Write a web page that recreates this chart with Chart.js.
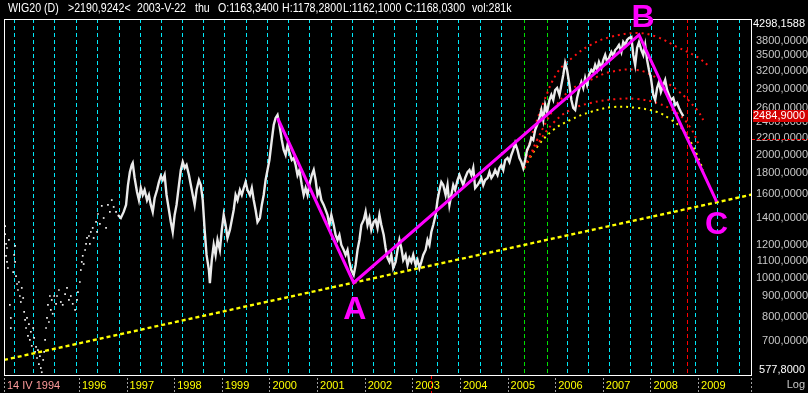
<!DOCTYPE html>
<html><head><meta charset="utf-8">
<script src="https://cdn.jsdelivr.net/npm/chart.js@4.4.1/dist/chart.umd.min.js"></script>
<style>html,body{margin:0;padding:0;background:#000;overflow:hidden}#wrap{width:808px;height:393px;position:relative}</style>
</head><body><div id="wrap"><canvas id="c" width="808" height="393"></canvas></div>
<script>
// ---------- data ----------
const xRange = [1994.427, 2010.133];
const yRange = [577.8, 4298.1588];
const yTicks = [700, 800, 900, 1000, 1100, 1200, 1400, 1600, 1800, 2000, 2200, 2400, 2600, 2900, 3200, 3500, 3800];
const xTickYears = [1994.427, 1996, 1997, 1998, 1999, 2000, 2001, 2002, 2003, 2004, 2005, 2006, 2007, 2008, 2009];
const xTickLabels = ['14 IV 1994', '1996', '1997', '1998', '1999', '2000', '2001', '2002', '2003', '2004', '2005', '2006', '2007', '2008', '2009'];
const gridYears = [1994.64, 1995.04, 1995.48, 1995.94, 1996.39, 1996.85, 1997.29, 1997.73, 1998.17, 1998.61, 1999.06, 1999.52, 1999.96, 2000.41, 2000.85, 2001.30, 2001.75, 2002.19, 2002.63, 2003.08, 2003.53, 2003.97, 2004.43, 2004.88, 2005.36, 2005.83, 2006.25, 2006.70, 2007.14, 2007.58, 2008.03, 2008.48, 2008.77, 2008.94, 2009.41, 2009.87];
const greenGridYears = [2005.36, 2005.83];
const redGridYear = 2008.77;

const earlyDates = [1994.45,1994.45,1994.47,1994.47,1994.49,1994.49,1994.51,1994.53,1994.55,1994.57,1994.57,1994.62,1994.64,1994.66,1994.66,1994.68,1994.70,1994.72,1994.74,1994.76,1994.78,1994.80,1994.83,1994.85,1994.87,1994.89,1994.91,1994.93,1994.95,1994.97,1994.99,1995.01,1995.04,1995.06,1995.08,1995.10,1995.12,1995.14,1995.16,1995.18,1995.20,1995.22,1995.25,1995.27,1995.29,1995.31,1995.33,1995.35,1995.37,1995.39,1995.41,1995.43,1995.45,1995.48,1995.52,1995.54,1995.58,1995.62,1995.66,1995.71,1995.75,1995.79,1995.83,1995.87,1995.92,1995.96,1995.98,1996.02,1996.04,1996.06,1996.08,1996.10,1996.13,1996.15,1996.17,1996.21,1996.23,1996.25,1996.29,1996.31,1996.36,1996.38,1996.40,1996.44,1996.48,1996.52,1996.57,1996.61,1996.65,1996.69,1996.73,1996.78];
const earlyValues = [1338,1279,1210,1131,1182,1093,1056,1237,858,797,753,1032,1137,1196,1093,1009,965,933,976,902,872,944,892,825,788,753,797,720,770,704,737,681,753,712,658,677,636,665,614,643,601,587,629,658,704,753,797,858,779,902,834,882,816,902,863,902,933,872,858,912,944,882,902,863,834,882,922,976,1044,1093,1131,1080,1169,1210,1251,1265,1210,1294,1324,1251,1369,1294,1432,1354,1499,1400,1324,1507,1449,1549,1490,1449];

const priceDates = [1996.82,1996.88,1996.94,1996.99,1997.03,1997.07,1997.11,1997.13,1997.17,1997.22,1997.26,1997.30,1997.34,1997.38,1997.43,1997.47,1997.51,1997.55,1997.59,1997.64,1997.68,1997.72,1997.76,1997.80,1997.84,1997.89,1997.93,1997.97,1998.01,1998.05,1998.10,1998.14,1998.18,1998.22,1998.26,1998.31,1998.35,1998.39,1998.43,1998.47,1998.52,1998.56,1998.60,1998.64,1998.68,1998.73,1998.75,1998.79,1998.83,1998.87,1998.91,1998.96,1999.00,1999.04,1999.08,1999.12,1999.17,1999.21,1999.25,1999.29,1999.33,1999.38,1999.42,1999.46,1999.50,1999.54,1999.59,1999.63,1999.67,1999.71,1999.75,1999.80,1999.84,1999.88,1999.92,1999.96,2000.00,2000.05,2000.09,2000.13,2000.17,2000.21,2000.26,2000.30,2000.34,2000.38,2000.42,2000.47,2000.51,2000.55,2000.59,2000.63,2000.68,2000.72,2000.76,2000.80,2000.84,2000.89,2000.93,2000.97,2001.01,2001.05,2001.09,2001.14,2001.18,2001.22,2001.26,2001.30,2001.35,2001.39,2001.43,2001.47,2001.51,2001.56,2001.60,2001.64,2001.68,2001.72,2001.77,2001.81,2001.85,2001.89,2001.93,2001.98,2002.02,2002.06,2002.10,2002.14,2002.19,2002.23,2002.27,2002.31,2002.35,2002.40,2002.44,2002.48,2002.52,2002.56,2002.60,2002.65,2002.69,2002.73,2002.77,2002.81,2002.86,2002.90,2002.94,2002.98,2003.02,2003.07,2003.11,2003.15,2003.19,2003.23,2003.28,2003.32,2003.36,2003.40,2003.44,2003.49,2003.53,2003.57,2003.61,2003.65,2003.70,2003.74,2003.78,2003.82,2003.86,2003.90,2003.95,2003.99,2004.03,2004.07,2004.11,2004.16,2004.20,2004.24,2004.28,2004.32,2004.37,2004.41,2004.45,2004.49,2004.53,2004.58,2004.62,2004.66,2004.70,2004.74,2004.79,2004.83,2004.87,2004.91,2004.95,2005.00,2005.04,2005.08,2005.12,2005.16,2005.21,2005.25,2005.29,2005.33,2005.37,2005.41,2005.46,2005.50,2005.54,2005.58,2005.62,2005.67,2005.71,2005.75,2005.79,2005.83,2005.88,2005.92,2005.96,2006.00,2006.04,2006.09,2006.13,2006.17,2006.21,2006.25,2006.30,2006.34,2006.38,2006.42,2006.46,2006.50,2006.55,2006.59,2006.63,2006.67,2006.71,2006.76,2006.80,2006.84,2006.88,2006.92,2006.97,2007.01,2007.05,2007.09,2007.13,2007.18,2007.22,2007.26,2007.30,2007.34,2007.39,2007.43,2007.47,2007.51,2007.55,2007.60,2007.64,2007.68,2007.72,2007.76,2007.81,2007.85,2007.89,2007.93,2007.97,2008.01,2008.06,2008.10,2008.14,2008.18,2008.22,2008.27,2008.31,2008.35,2008.39,2008.43,2008.48,2008.52,2008.56,2008.60,2008.64,2008.69];
const priceValues = [1424,1400,1449,1507,1686,1814,1887,1908,1754,1621,1549,1658,1594,1639,1549,1594,1507,1449,1567,1639,1715,1774,1734,1784,1594,1465,1369,1294,1424,1507,1686,1835,1919,1856,1887,1784,1686,1594,1507,1639,1734,1686,1549,1309,1137,1044,970,1105,1203,1137,1237,1169,1309,1424,1346,1251,1309,1385,1465,1594,1549,1639,1594,1658,1715,1639,1594,1658,1549,1465,1369,1400,1507,1594,1734,1835,1941,2173,2365,2461,2502,2365,2173,2054,1997,2113,2031,1941,1963,1887,1784,1835,1686,1594,1658,1594,1686,1784,1835,1734,1594,1639,1549,1507,1465,1424,1346,1424,1346,1272,1237,1272,1203,1169,1137,1169,1093,1044,1015,1074,1169,1237,1346,1385,1449,1346,1400,1309,1369,1385,1324,1424,1346,1272,1182,1118,1093,1137,1056,1093,1169,1237,1182,1105,1137,1074,1118,1093,1137,1074,1105,1056,1093,1137,1169,1237,1203,1294,1346,1424,1549,1639,1715,1686,1594,1686,1507,1594,1686,1639,1734,1784,1734,1686,1754,1814,1835,1784,1856,1658,1686,1715,1754,1686,1734,1754,1814,1754,1784,1835,1784,1856,1887,1835,1941,1963,1919,1997,2054,2137,2054,1963,1919,1856,1941,2054,2113,2198,2173,2299,2365,2461,2574,2433,2647,2545,2723,2801,2723,2881,2914,2801,2963,3135,3355,3225,2963,2723,2603,2574,2754,2881,3014,2914,3083,2963,3135,3225,3189,3317,3225,3373,3262,3411,3509,3373,3450,3569,3489,3609,3650,3712,3569,3775,3712,3818,3861,3883,3509,3317,3650,3775,3609,3509,3712,3411,3225,3083,2801,2723,2914,3014,2849,2963,3048,2881,2801,2723,2754,2647,2677,2603,2545,2485];

const trendDates = [1994.427, 2010.133];
const trendValues = [629, 1598];

const abcDates = [2000.17, 2001.77, 2007.76, 2009.39];
const abcValues = [2460, 972, 3928, 1535];
const abcNames = ['', 'A', 'B', 'C'];

const arcOuterDates = [2005.35,2005.48,2005.62,2005.75,2006.04,2006.38,2006.74,2007.16,2007.72,2008.14,2008.56,2008.98,2009.25];
const arcOuterValues = [1856,2173,2433,2677,3171,3470,3712,3884,3972,3884,3670,3470,3280];
const arcMidDates = [2005.35,2005.48,2005.62,2005.96,2006.32,2006.74,2007.16,2007.72,2008.14,2008.56,2008.98,2009.11];
const arcMidValues = [1856,1997,2173,2574,2881,3048,3189,3225,3083,2881,2574,2433];
const arcInnerDates = [2005.35,2005.58,2005.96,2006.32,2006.74,2007.30,2007.72,2008.14,2008.56,2008.83,2009.04];
const arcInnerValues = [1856,2077,2392,2574,2677,2738,2738,2677,2530,2339,2090];
const arcYellowDates = [2005.35,2005.62,2005.96,2006.32,2006.74,2007.22,2007.72,2008.14,2008.41,2008.69,2008.90,2009.11];
const arcYellowValues = [1856,2090,2299,2433,2545,2617,2603,2545,2447,2299,2090,1835];

const lastPrice = 2484.9;
const cursorDate = 2003.39;
const cursorValue = 2190.9242;
const headerParts = ['WIG20 (D)', '>2190,9242<', '2003-V-22', 'thu', 'O:1163,3400', 'H:1178,2800', 'L:1162,1000', 'C:1168,0300', 'vol:281k'];
const headerX = [8, 68, 137, 195, 218, 282, 343, 405, 472];

// ---------- helpers ----------
const FONT = '"Liberation Sans", Arial, sans-serif';
const fmt = v => v.toFixed(4).replace('.', ',');
const pts = (xs, ys) => xs.map((d, i) => ({x: d, y: ys[i]}));

const decor = {
  id: 'decor',
  beforeDraw(chart) {
    const c = chart.ctx; c.save(); c.fillStyle = '#000'; c.fillRect(0, 0, chart.width, chart.height); c.restore();
  },
  afterDraw(chart) {
    const {ctx, chartArea: a, scales: {x, y}} = chart;
    const W = chart.width, H = chart.height;
    ctx.save();
    // frame
    ctx.setLineDash([]); ctx.strokeStyle = '#ffffff'; ctx.lineWidth = 1;
    ctx.strokeRect(a.left + 0.5, a.top + 0.5, a.right - a.left - 1, a.bottom - a.top);
    // x tick marks
    ctx.strokeStyle = '#a0a0a0'; ctx.setLineDash([2, 2]);
    [...xTickYears, xRange[1]].forEach(v => {
      const px = Math.round(x.getPixelForValue(v)) + 0.5 - (v === xRange[1] ? 1 : 0);
      ctx.beginPath(); ctx.moveTo(px, a.bottom + 3); ctx.lineTo(px, a.bottom + 17); ctx.stroke();
    });
    // cursor marks
    ctx.strokeStyle = '#ff0000'; ctx.setLineDash([3, 2]);
    const cx = Math.round(x.getPixelForValue(cursorDate)) + 0.5;
    ctx.beginPath(); ctx.moveTo(cx, a.bottom + 1); ctx.lineTo(cx, H); ctx.stroke();
    const cy = Math.round(y.getPixelForValue(cursorValue)) + 0.5;
    ctx.beginPath(); ctx.moveTo(a.right, cy); ctx.lineTo(W, cy); ctx.stroke();
    ctx.setLineDash([]);
    // last price box
    const py = y.getPixelForValue(lastPrice);
    ctx.fillStyle = '#d40000';
    ctx.fillRect(a.right + 1, Math.round(py) - 6, W - a.right - 1, 12);
    ctx.font = '11px ' + FONT; ctx.textAlign = 'right'; ctx.textBaseline = 'middle';
    ctx.fillStyle = '#ffffff';
    ctx.fillText(fmt(lastPrice), 805, py);
    // axis extremes
    ctx.fillText(fmt(yRange[1]), 805, y.getPixelForValue(yRange[1]) + 5);
    ctx.fillText(fmt(yRange[0]), 805, y.getPixelForValue(yRange[0]) - 5);
    ctx.fillStyle = '#c8c8c8';
    ctx.fillText('Log', 805, a.bottom + 10);
    // header (narrow bitmap-like font emulated by horizontal squeeze)
    ctx.textAlign = 'left'; ctx.fillStyle = '#ffffff'; ctx.font = '12.5px ' + FONT;
    headerParts.forEach((t, i) => {
      ctx.save(); ctx.translate(headerX[i], 9); ctx.scale(0.85, 1); ctx.fillText(t, 0, 0); ctx.restore();
    });
    // ABC letters
    ctx.font = 'bold 32px ' + FONT; ctx.fillStyle = '#ff00ff'; ctx.textAlign = 'center';
    const offs = [null, [1, 27], [4, -17], [0, 24]];
    abcNames.forEach((n, i) => {
      if (!n) return;
      const px = x.getPixelForValue(abcDates[i]), pyy = y.getPixelForValue(abcValues[i]);
      ctx.fillText(n, px + offs[i][0], pyy + offs[i][1]);
    });
    ctx.restore();
  }
};

new Chart(document.getElementById('c'), {
  type: 'line',
  data: {
    datasets: [
      { label: 'ABC', data: pts(abcDates, abcValues), borderColor: '#ff00ff', borderWidth: 3, pointRadius: 0, order: 0 },
      { label: 'Trend', data: pts(trendDates, trendValues), borderColor: '#ffff00', borderWidth: 2.4, borderDash: [4, 3], pointRadius: 0, order: 1 },
      { label: 'WIG20', data: pts(priceDates, priceValues), borderColor: '#ebebeb', borderWidth: 2.4, pointRadius: 0, order: 2 },
      { label: 'WIG20 early', data: pts(earlyDates, earlyValues), showLine: false, pointStyle: 'rect', pointRadius: 1.2, backgroundColor: '#eeeeee', borderWidth: 0, order: 3 },
      { label: 'Arc 1', data: pts(arcOuterDates, arcOuterValues), borderColor: '#ff1010', borderWidth: 2, borderDash: [2, 4], pointRadius: 0, tension: 0.4, order: 4 },
      { label: 'Arc 2', data: pts(arcMidDates, arcMidValues), borderColor: '#ff1010', borderWidth: 2, borderDash: [2, 4], pointRadius: 0, tension: 0.4, order: 4 },
      { label: 'Arc 3', data: pts(arcInnerDates, arcInnerValues), borderColor: '#ff1010', borderWidth: 2, borderDash: [2, 4], pointRadius: 0, tension: 0.4, order: 4 },
      { label: 'Arc 4', data: pts(arcYellowDates, arcYellowValues), borderColor: '#ffff00', borderWidth: 2, borderDash: [2, 4], pointRadius: 0, tension: 0.4, order: 4 }
    ]
  },
  options: {
    responsive: false, animation: false, devicePixelRatio: 1, events: [],
    layout: { padding: { left: 3, top: 19, right: 0, bottom: 0 } },
    plugins: { legend: { display: false }, tooltip: { enabled: false }, title: { display: false } },
    scales: {
      x: {
        type: 'linear', position: 'bottom', min: xRange[0], max: xRange[1],
        afterBuildTicks: s => { s.ticks = xTickYears.map(v => ({ value: v })); },
        afterFit: s => { s.height = 18; },
        grid: { display: false, drawTicks: false },
        border: { display: false },
        ticks: {
          autoSkip: false, maxRotation: 0, align: 'start', labelOffset: 3, padding: 4,
          font: { family: FONT, size: 11 },
          color: ctx => ctx.index === 0 ? '#ff9c9c' : '#ffff00',
          callback: (v, i) => xTickLabels[i]
        }
      },
      xg: {
        type: 'linear', position: 'bottom', min: xRange[0], max: xRange[1],
        afterBuildTicks: s => { s.ticks = gridYears.map(v => ({ value: v })); },
        afterFit: s => { s.height = 0; },
        ticks: { display: false },
        grid: {
          drawTicks: false, lineWidth: 1,
          color: ctx => {
            const v = ctx.tick ? ctx.tick.value : 0;
            if (greenGridYears.includes(v)) return '#00e000';
            if (v === redGridYear) return '#ff0000';
            return '#00e8f8';
          }
        },
        border: { display: false, dash: [4, 3] }
      },
      y: {
        type: 'logarithmic', position: 'right', min: yRange[0], max: yRange[1],
        afterBuildTicks: s => { s.ticks = yTicks.map(v => ({ value: v })); },
        afterFit: s => { s.width = 56; },
        grid: { display: false, drawTicks: false },
        border: { display: false },
        ticks: {
          crossAlign: 'far', padding: 1, autoSkip: false,
          font: { family: FONT, size: 11 }, color: '#c8c8c8',
          callback: v => fmt(v)
        }
      }
    }
  },
  plugins: [decor]
});
</script></body></html>
